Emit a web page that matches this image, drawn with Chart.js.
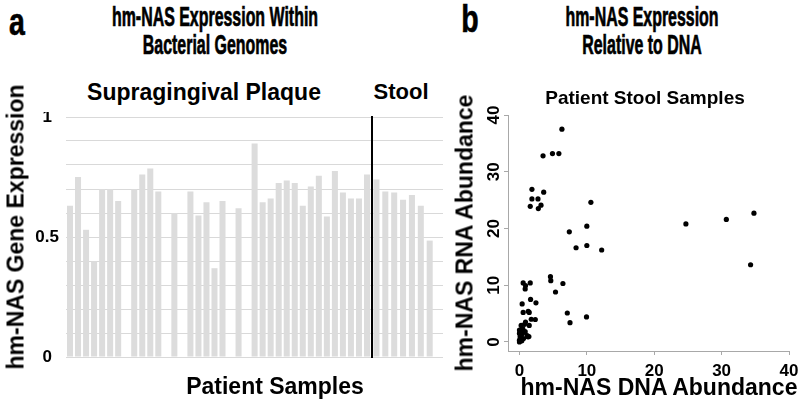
<!DOCTYPE html>
<html>
<head>
<meta charset="utf-8">
<script src="https://cdn.jsdelivr.net/npm/chart.js@4.4.1/dist/chart.umd.min.js"></script>
<style>
  html, body { margin: 0; padding: 0; background: #fff; }
  #wrap { position: relative; width: 800px; height: 403px; overflow: hidden; font-family: "Liberation Sans", Arial, sans-serif; font-weight: bold; color: #000; }
  canvas { position: absolute; }
  .t { position: absolute; white-space: nowrap; line-height: 1; transform: translate(-50%, -50%); }
  .narrow { transform: translate(-50%, -50%) scaleX(0.59); -webkit-text-stroke: 0.7px #000; }
  .letter { transform: translate(-50%, -50%) scaleX(0.75); -webkit-text-stroke: 0.6px #000; }
  .rot { transform: translate(-50%, -50%) rotate(-90deg); }
</style>
</head>
<body>
<div id="wrap">
  <canvas id="plaque" width="372" height="250" style="left:0px; top:112px;"></canvas>
  <canvas id="stool" width="90" height="250" style="left:360px; top:112px;"></canvas>
  <canvas id="scatter" width="340" height="298" style="left:460px; top:105px;"></canvas>

  <div class="t letter" style="left:17px; top:22px; font-size:38px;">a</div>
  <div class="t narrow" style="left:215px; top:17px; font-size:27px;">hm-NAS Expression Within</div>
  <div class="t narrow" style="left:215px; top:45px; font-size:27px;">Bacterial Genomes</div>
  <div class="t letter" style="left:470px; top:19px; font-size:38px;">b</div>
  <div class="t narrow" style="left:642px; top:17px; font-size:27px;">hm-NAS Expression</div>
  <div class="t narrow" style="left:642px; top:45px; font-size:27px;">Relative to DNA</div>

  <div class="t" style="left:204px; top:92px; font-size:23px;">Supragingival Plaque</div>
  <div class="t" style="left:401px; top:92px; font-size:22px;">Stool</div>
  <div class="t" style="left:645px; top:97px; font-size:19px;">Patient Stool Samples</div>
  <div class="t" style="left:275px; top:386px; font-size:23px;">Patient Samples</div>
  <div class="t" style="left:659px; top:387px; font-size:23px;">hm-NAS DNA Abundance</div>
  <div class="t rot" style="left:16px; top:227px; font-size:23px;">hm-NAS Gene Expression</div>
  <div class="t rot" style="left:465px; top:233px; font-size:23px;">hm-NAS RNA Abundance</div>
</div>

<script>
// panel a: hm-NAS gene expression per genome (fraction)
const plaqueValues = [
  0.63, 0.75, 0.53, 0.40, 0.70, 0.70, 0.65, 0, 0.70, 0.76,
  0.785, 0.69, 0, 0.60, 0, 0.69, 0.59, 0.645, 0.37, 0.65,
  0, 0.62, 0, 0.89, 0.645, 0.66, 0.725, 0.735, 0.725, 0.63,
  0.71, 0.755, 0.585, 0.775, 0.685, 0.66, 0.66, 0.76
];
const stoolValues = [0.74, 0.69, 0.685, 0.655, 0.675, 0.63, 0.485];
const expressionTicks = [0, 0.5, 1];

// panel b: patient stool samples
const dnaAbundance = [
  6.3, 3.5, 4.9, 5.85, 1.85, 3.6, 1.85, 2.75, 1.6, 3.2,
  2.8, 10.6, 10.0, 7.4, 10.0, 8.4, 12.2, 4.6, 4.65, 6.45,
  5.35, 7.1, 7.5, 9.95, 24.7, 30.7, 34.8, 34.3, 0.55, 1.6,
  0.9, 0.85, 0.4, 1.65, 2.45, 0.55, 1.3, 1.45, 0.9, 1.75,
  2.35, 1.45, 0.25, 1.15, 1.4, 0.75, 0.0, 0.0, 0.1, 0.0,
  0.35, 0.25, 0.6, 1.25, 0.0, 0.1, 0.45, 0.85, 0.2, 0.5
];
const rnaAbundance = [
  37.5, 32.8, 33.2, 33.2, 26.9, 26.4, 25.2, 25.2, 23.9, 24.1,
  23.5, 24.6, 20.4, 19.4, 17.0, 16.6, 16.2, 11.5, 10.8, 10.3,
  8.8, 5.1, 3.4, 4.4, 20.8, 21.6, 22.7, 13.6, 10.4, 10.4,
  9.95, 9.35, 6.7, 7.5, 6.9, 5.2, 5.4, 5.2, 3.5, 4.0,
  3.95, 2.9, 2.9, 1.1, 0.95, 3.1, 2.1, 1.5, 0.9, 0.3,
  0.2, 1.2, 0.6, 0.9, 0.0, 1.8, 1.5, 1.8, 0.5, 2.3
];
const abundanceTicks = [0, 10, 20, 30, 40];

const barColor = '#dcdcdc';
const gridColor = '#d9d9d9';
const axisColor = '#a8a8a8';
const tickFont = { family: '"Liberation Sans", Arial, sans-serif', weight: 'bold', size: 17 };

const noPlugins = { legend: { display: false }, tooltip: { enabled: false } };

// keep the plot areas where we put them, no room reserved for edge labels
function fixSize(w, h) {
  return s => {
    if (w !== null) s.width = w;
    if (h !== null) s.height = h;
    s.paddingTop = 0; s.paddingBottom = 0; s.paddingLeft = 0; s.paddingRight = 0;
  };
}

// plaque bars
new Chart(document.getElementById('plaque'), {
  type: 'bar',
  data: {
    labels: plaqueValues.map((v, i) => 'P' + (i + 1)),
    datasets: [{ data: plaqueValues, backgroundColor: barColor, barPercentage: 0.75, categoryPercentage: 1 }]
  },
  options: {
    responsive: false,
    animation: false,
    layout: { padding: { top: 5, bottom: 5, left: 0, right: 1 } },
    plugins: noPlugins,
    scales: {
      x: { display: false },
      y: {
        min: 0, max: 1,
        afterFit: fixSize(66, null),
        border: { display: false },
        grid: { color: gridColor, drawTicks: false },
        ticks: {
          stepSize: 0.1, autoSkip: false, padding: 7, crossAlign: 'center',
          color: '#000', font: tickFont,
          callback: v => {
            const r = Math.round(v * 10) / 10;
            return expressionTicks.includes(r) ? String(r) : '';
          }
        }
      }
    }
  }
});

// stool bars, the black divider is this chart's axis border
new Chart(document.getElementById('stool'), {
  type: 'bar',
  data: {
    labels: stoolValues.map((v, i) => 'S' + (i + 1)).concat(['']),
    datasets: [{ data: stoolValues.concat([null]), backgroundColor: barColor, barPercentage: 0.68, categoryPercentage: 1 }]
  },
  options: {
    responsive: false,
    animation: false,
    layout: { padding: { top: 5, bottom: 5, left: 0, right: 7 } },
    plugins: noPlugins,
    scales: {
      x: { display: false },
      y: {
        min: 0, max: 1,
        afterFit: fixSize(12, null),
        border: { display: true, color: '#000', width: 2 },
        grid: { color: gridColor, drawTicks: false },
        ticks: { display: false, stepSize: 0.1, autoSkip: false }
      }
    }
  }
});

// scatter
new Chart(document.getElementById('scatter'), {
  type: 'scatter',
  data: {
    datasets: [{
      data: dnaAbundance.map((x, i) => ({ x: x, y: rnaAbundance[i] })),
      backgroundColor: '#000', borderColor: '#000', borderWidth: 0, pointRadius: 2.6
    }]
  },
  options: {
    responsive: false,
    animation: false,
    layout: { padding: { top: 10, bottom: 0, left: 0, right: 11 } },
    plugins: noPlugins,
    scales: {
      x: {
        type: 'linear', min: -1.7, max: 40,
        afterFit: fixSize(null, 52),
        afterBuildTicks: s => { s.ticks = abundanceTicks.map(v => ({ value: v })); },
        border: { display: true, color: axisColor, width: 1 },
        grid: { drawOnChartArea: false, color: axisColor, tickLength: 4 },
        ticks: { padding: 6, color: '#000', font: tickFont, maxRotation: 0 }
      },
      y: {
        type: 'linear', min: -1.6, max: 40,
        afterFit: fixSize(48, null),
        afterBuildTicks: s => { s.ticks = abundanceTicks.map(v => ({ value: v })); },
        border: { display: true, color: axisColor, width: 1 },
        grid: { drawOnChartArea: false, color: axisColor, tickLength: 4 },
        ticks: { padding: 0, crossAlign: 'center', minRotation: 90, maxRotation: 90, color: '#000', font: tickFont }
      }
    }
  }
});
</script>
</body>
</html>
